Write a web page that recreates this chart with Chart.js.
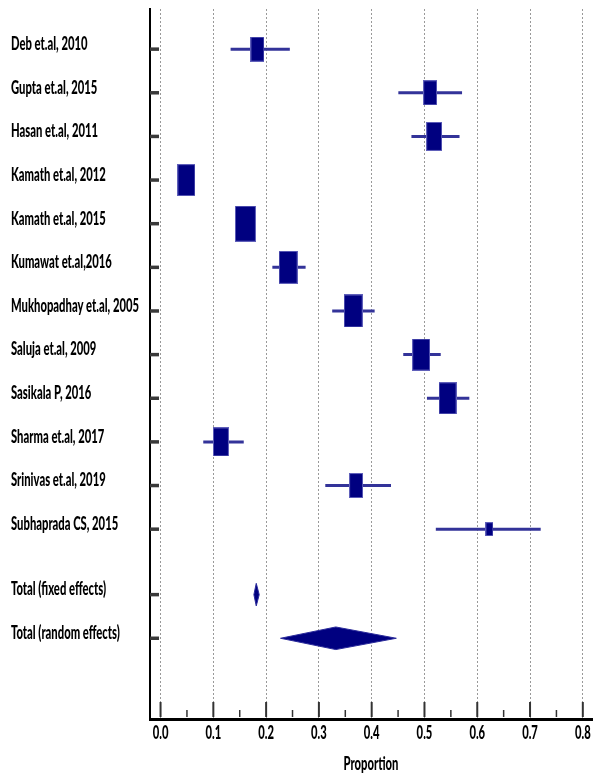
<!DOCTYPE html>
<html>
<head>
<meta charset="utf-8">
<script src="https://cdn.jsdelivr.net/npm/chart.js@4.4.1/dist/chart.umd.min.js"></script>
<style>
  html, body { margin: 0; padding: 0; background: #fff; overflow: hidden; }
  canvas { display: block; }
</style>
</head>
<body>
<canvas id="forest" width="598" height="777"></canvas>
<script>
// studies, top to bottom
const studies = ['Deb et.al, 2010', 'Gupta et.al, 2015', 'Hasan et.al, 2011', 'Kamath et.al, 2012',
    'Kamath et.al, 2015', 'Kumawat et.al,2016', 'Mukhopadhay et.al, 2005', 'Saluja et.al, 2009',
    'Sasikala P, 2016', 'Sharma et.al, 2017', 'Srinivas et.al, 2019', 'Subhaprada CS, 2015'];
const proportion = [0.1835, 0.5108, 0.5183, 0.0489, 0.1607, 0.2417, 0.3650, 0.4937, 0.5438, 0.1143, 0.3704, 0.6230];
const ciLow      = [0.1327, 0.4505, 0.4753, 0.0400, 0.1480, 0.2118, 0.3252, 0.4598, 0.5047, 0.0809, 0.3121, 0.5215];
const ciHigh     = [0.2449, 0.5712, 0.5664, 0.0580, 0.1740, 0.2748, 0.4056, 0.5308, 0.5850, 0.1576, 0.4366, 0.7202];
const weight     = [6.2, 6.2, 7.9, 9.9, 12.6, 10.6, 10.3, 10.1, 10.1, 8.0, 6.1, 2.0]; // %

// pooled estimates
const totals    = ['Total (fixed effects)', 'Total (random effects)'];
const totalEst  = [0.1813, 0.3320];
const totalLow  = [0.1768, 0.2273];
const totalHigh = [0.1869, 0.4467];

const xTicks = [0.0, 0.1, 0.2, 0.3, 0.4, 0.5, 0.6, 0.7, 0.8];

// row positions on the y scale (totals sit a row and a half below the studies)
const studyRows = studies.map((s, i) => i + 1);
const totalRows = totals.map((s, j) => studies.length + 1.5 + j);
const rowLabels = studies.concat(totals);
const rowValues = studyRows.concat(totalRows);

const FONT = 'Lato, "Liberation Sans", sans-serif';
const WEIGHT = '900';
const navy = '#000080';

// the picture is squashed sideways, text included
const probe = document.createElement('canvas').getContext('2d');
probe.font = WEIGHT + ' 18px ' + FONT;
const squeeze = 128 / probe.measureText('Mukhopadhay et.al, 2005').width;

const canvas = document.getElementById('forest');
const ctx = canvas.getContext('2d');
const fill = ctx.fillText.bind(ctx);
ctx.fillText = (t, x, y) => {
    ctx.save();
    ctx.translate(x, y);
    ctx.scale(squeeze, 1);
    fill(t, 0, 0);
    ctx.restore();
};

// weighted boxes
function boxImage(w) {
    const h = 10.14 * Math.sqrt(w);
    const c = document.createElement('canvas');
    c.width = Math.round(h * 0.57);
    c.height = Math.round(h);
    const g = c.getContext('2d');
    g.fillStyle = navy;
    g.fillRect(0, 0, c.width, c.height);
    g.strokeStyle = 'rgba(120,120,200,0.8)';
    g.lineWidth = 1;
    g.strokeRect(0.5, 0.5, c.width - 1, c.height - 1);
    return c;
}

const whiskers = [];
studies.forEach((s, i) => {
    whiskers.push({ x: ciLow[i], y: studyRows[i] }, { x: ciHigh[i], y: studyRows[i] }, { x: null, y: null });
});

const forestMarks = {
    id: 'forestMarks',
    afterDatasetsDraw(chart) {
        const { ctx, scales: { x, y }, chartArea } = chart;
        const base = chartArea.bottom - 2;
        ctx.save();
        // inward ticks on x
        ctx.strokeStyle = '#333';
        xTicks.forEach((v, i) => {
            ctx.lineWidth = 2;
            ctx.beginPath();
            ctx.moveTo(x.getPixelForValue(v), base);
            ctx.lineTo(x.getPixelForValue(v), base - 15);
            ctx.stroke();
            if (i < xTicks.length - 1) {
                const m = x.getPixelForValue((v + xTicks[i + 1]) / 2);
                ctx.lineWidth = 1.5;
                ctx.beginPath();
                ctx.moveTo(m, base);
                ctx.lineTo(m, base - 7);
                ctx.stroke();
            }
        });
        // row ticks on y
        ctx.strokeStyle = '#3a3a3a';
        ctx.lineWidth = 3.5;
        rowValues.forEach(v => {
            const py = y.getPixelForValue(v);
            ctx.beginPath();
            ctx.moveTo(chartArea.left, py);
            ctx.lineTo(chartArea.left + 9, py);
            ctx.stroke();
        });
        // pooled diamonds
        ctx.fillStyle = navy;
        ctx.strokeStyle = '#2a2a9a';
        ctx.lineWidth = 1;
        totals.forEach((t, j) => {
            const py = y.getPixelForValue(totalRows[j]);
            const half = 11.3;
            ctx.beginPath();
            ctx.moveTo(x.getPixelForValue(totalLow[j]), py);
            ctx.lineTo(x.getPixelForValue(totalEst[j]), py - half);
            ctx.lineTo(x.getPixelForValue(totalHigh[j]), py);
            ctx.lineTo(x.getPixelForValue(totalEst[j]), py + half);
            ctx.closePath();
            ctx.fill();
            ctx.stroke();
        });
        ctx.restore();
    }
};

new Chart(ctx, {
    type: 'scatter',
    data: {
        datasets: [{
            label: 'Studies',
            data: studies.map((s, i) => ({ x: proportion[i], y: studyRows[i] })),
            pointStyle: weight.map(boxImage),
            pointRadius: 5
        }, {
            type: 'line',
            label: 'CI',
            data: whiskers,
            borderColor: '#333399',
            borderWidth: 3,
            borderCapStyle: 'butt',
            pointRadius: 0,
            spanGaps: false
        }]
    },
    options: {
        responsive: false,
        animation: false,
        events: [],
        layout: { padding: { left: 11, top: 9, right: 0, bottom: 0 } },
        plugins: { legend: { display: false }, tooltip: { enabled: false } },
        scales: {
            x: {
                type: 'linear',
                min: -0.02,
                max: 0.8174,
                afterBuildTicks: s => { s.ticks = xTicks.map(v => ({ value: v })); },
                afterFit: s => { s.height = 58; s.paddingLeft = 0; s.paddingRight = 0; },
                grid: { color: '#999', lineWidth: 1, drawTicks: false },
                border: { color: '#000', width: 3, dash: [2, 2] },
                ticks: {
                    padding: 3,
                    autoSkip: false,
                    maxRotation: 0,
                    color: '#000',
                    font: { family: FONT, size: 18, weight: WEIGHT },
                    callback: v => v.toFixed(1)
                },
                title: {
                    display: true,
                    text: 'Proportion',
                    color: '#000',
                    font: { family: FONT, size: 18, weight: WEIGHT },
                    padding: { top: 0, bottom: 2 }
                }
            },
            y: {
                type: 'linear',
                reverse: true,
                min: 0.08,
                max: 16.35,
                afterBuildTicks: s => { s.ticks = rowValues.map(v => ({ value: v })); },
                afterFit: s => { s.width = 139; s.paddingTop = 0; s.paddingBottom = 0; },
                grid: { drawOnChartArea: false, drawTicks: false },
                border: { color: '#000', width: 2 },
                ticks: {
                    crossAlign: 'far',
                    padding: 0,
                    labelOffset: -5,
                    autoSkip: false,
                    color: '#000',
                    font: { family: FONT, size: 18, weight: WEIGHT },
                    callback: (v, i) => rowLabels[i]
                }
            }
        }
    },
    plugins: [forestMarks]
});
</script>
</body>
</html>
